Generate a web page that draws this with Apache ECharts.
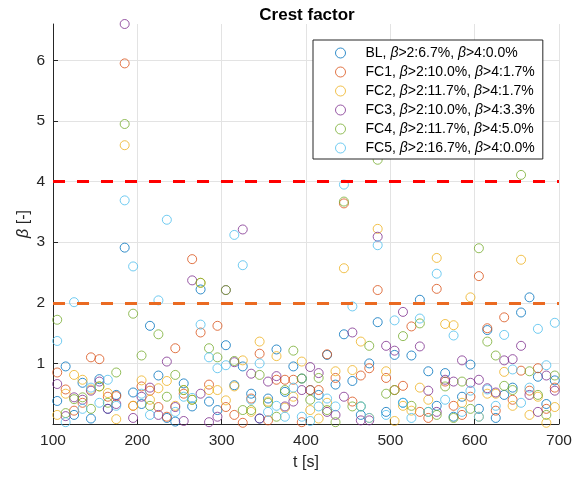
<!DOCTYPE html>
<html>
<head>
<meta charset="utf-8">
<script src="https://cdn.jsdelivr.net/npm/echarts@6/dist/echarts.min.js"></script>
<style>
  html, body { margin: 0; padding: 0; background: #fff; }
  #chart { width: 579px; height: 479px; }
</style>
</head>
<body>
<div id="chart"></div>
<script>
// Sampling instants of the crest-factor estimate [s]
const times = [105, 115, 125, 135, 145, 155, 165, 175, 185, 195,
               205, 215, 225, 235, 245, 255, 265, 275, 285, 295,
               305, 315, 325, 335, 345, 355, 365, 375, 385, 395,
               405, 415, 425, 435, 445, 455, 465, 475, 485, 495,
               505, 515, 525, 535, 545, 555, 565, 575, 585, 595,
               605, 615, 625, 635, 645, 655, 665, 675, 685, 695];

// Crest factor beta per case
const bl  = [0.38, 0.95, 0.15, 0.68, 0.09, 0.74, 0.25, 0.48, 2.91, 0.52,
             0.33, 1.62, 0.80, 0.10, 0.04, 0.67, 0.29, 2.22, 0.37, 0.23,
             1.30, 0.64, 0.95, 0.50, 0.09, 0.42, 1.23, 0.53, 0.95, 0.75,
             0.56, 0.48, 1.14, 0.65, 1.48, 0.71, 0.15, 1.00, 1.68, 0.20,
             1.14, 0.35, 1.13, 2.05, 0.87, 0.30, 0.84, 0.12, 0.45, 0.98,
             0.25, 1.55, 0.10, 0.48, 0.60, 1.84, 2.09, 0.78, 0.33, 0.72];
const fc1 = [0.85, 0.57, 0.22, 0.35, 1.10, 1.07, 0.45, 0.46, 5.95, 0.30,
             0.62, 0.55, 0.28, 0.12, 1.25, 0.50, 2.72, 1.51, 0.65, 1.62,
             0.28, 0.15, 0.02, 0.42, 1.16, 0.06, 0.73, 0.73, 0.73, 0.03,
             0.56, 0.56, 1.15, 0.76, 3.64, 0.37, 0.80, 0.92, 2.21, 0.76,
             0.56, 0.63, 1.61, 0.20, 0.10, 2.23, 0.70, 0.30, 0.15, 0.45,
             2.44, 1.58, 0.22, 1.76, 0.40, 0.88, 0.55, 0.92, 0.25, 0.60];
const fc2 = [0.15, 0.50, 0.81, 0.73, 0.57, 0.62, 0.51, 0.08, 4.60, 0.30,
             0.72, 0.40, 0.59, 0.71, 0.30, 0.56, 0.40, 2.33, 0.56, 0.56,
             0.39, 0.62, 1.05, 0.20, 1.36, 0.37, 1.12, 0.27, 0.45, 1.03,
             0.23, 0.09, 0.35, 0.87, 2.57, 0.89, 1.36, 0.10, 3.22, 0.87,
             0.05, 0.30, 0.22, 0.60, 0.40, 2.74, 1.65, 1.63, 0.35, 2.09,
             0.12, 0.50, 0.50, 0.86, 0.30, 2.71, 0.15, 0.45, 0.02, 0.28];
const fc3 = [0.66, 0.13, 0.44, 0.40, 0.55, 0.70, 0.25, 0.33, 6.60, 0.10,
             0.45, 0.60, 0.15, 1.03, 0.28, 0.05, 2.37, 0.50, 0.03, 0.12,
             2.21, 1.02, 3.21, 0.83, 0.09, 0.70, 0.79, 0.29, 0.37, 0.56,
             0.94, 0.84, 0.20, 0.15, 0.45, 1.51, 0.06, 0.06, 3.09, 1.29,
             1.21, 1.85, 5.10, 1.28, 0.55, 0.20, 0.73, 0.70, 1.05, 0.68,
             0.73, 0.59, 0.52, 1.05, 1.07, 1.29, 0.48, 0.20, 0.80, 0.55];
const fc4 = [1.72, 0.18, 0.41, 0.44, 0.25, 0.62, 0.35, 0.85, 4.95, 1.82,
             1.13, 0.30, 1.48, 0.45, 0.81, 0.56, 0.40, 2.33, 1.25, 1.10,
             2.21, 1.04, 0.23, 0.23, 0.81, 0.35, 0.12, 0.56, 1.21, 0.75,
             0.40, 0.76, 0.23, 0.03, 3.67, 0.29, 0.29, 1.29, 4.36, 0.50,
             0.56, 1.45, 0.30, 1.66, 0.20, 0.15, 0.62, 0.10, 0.70, 0.25,
             2.90, 1.36, 1.13, 0.63, 0.56, 4.11, 0.87, 0.48, 0.15, 0.80];
const fc5 = [1.37, 0.03, 2.01, 0.25, 0.60, 0.35, 0.73, 0.30, 3.69, 2.60,
             0.50, 0.15, 2.04, 3.37, 0.20, 0.45, 0.43, 1.64, 1.10, 0.92,
             0.97, 3.12, 2.62, 0.40, 1.00, 0.20, 0.30, 0.12, 0.60, 0.12,
             0.05, 0.29, 0.42, 0.29, 3.95, 1.94, 0.29, 0.10, 2.95, 0.15,
             1.71, 0.35, 0.10, 1.74, 0.20, 2.48, 0.40, 1.46, 0.20, 0.55,
             0.12, 0.57, 0.30, 1.47, 0.90, 0.35, 0.60, 1.57, 0.97, 1.67];

const caseNames  = ['BL', 'FC1', 'FC2', 'FC3', 'FC4', 'FC5'];
const caseValues = [bl, fc1, fc2, fc3, fc4, fc5];
const caseColors = ['#0072BD', '#D95319', '#EDB120', '#7E2F8E', '#77AC30', '#4DBEEE'];

// Threshold levels and their line colours
const thresholds      = [2, 4];
const thresholdColors = ['#EA6A22', '#FF0000'];

// Axis ticks
const xTicks = [100, 200, 300, 400, 500, 600, 700];
const yTicks = [1, 2, 3, 4, 5, 6];

const FONT = "'Liberation Sans', Arial, Helvetica, sans-serif";
const AXIS_COLOR = '#262626';
const GRID_COLOR = '#E3E3E3';

// Share of samples above a level, in percent with one decimal
function shareAbove(values, level) {
  const n = values.filter(v => v > level).length;
  return (100 * n / values.length).toFixed(1);
}

const legendText = {};
caseNames.forEach((name, i) => {
  legendText[name] = name + ', {i|β}>' + thresholds[0] + ':' + shareAbove(caseValues[i], thresholds[0]) +
                     '%, {i|β}>' + thresholds[1] + ':' + shareAbove(caseValues[i], thresholds[1]) + '%';
});

const scatterSeries = caseNames.map((name, i) => ({
  name: name,
  type: 'scatter',
  symbol: 'circle',
  symbolSize: 9,
  z: 2,
  itemStyle: { color: 'rgba(0,0,0,0)', borderColor: caseColors[i], borderWidth: 1 },
  emphasis: { disabled: true },
  data: times.map((t, k) => [t, caseValues[i][k]])
}));

// Horizontal grid lines, kept underneath the markers
const gridSeries = {
  name: 'grid',
  type: 'scatter',
  data: [],
  silent: true,
  z: 0,
  markLine: {
    silent: true,
    z: 0,
    symbol: 'none',
    label: { show: false },
    emphasis: { disabled: true },
    lineStyle: { color: GRID_COLOR, type: 'solid', width: 1 },
    data: yTicks.map(v => ({ yAxis: v }))
  }
};

// Dashed threshold levels
const thresholdSeries = {
  name: 'levels',
  type: 'scatter',
  data: [],
  silent: true,
  z: 3,
  markLine: {
    silent: true,
    z: 3,
    symbol: 'none',
    label: { show: false },
    emphasis: { disabled: true },
    data: thresholds.map((v, i) => ({
      yAxis: v,
      lineStyle: { color: thresholdColors[i], type: [12, 12], width: 3 }
    }))
  }
};

const chart = echarts.init(document.getElementById('chart'), null, { renderer: 'canvas' });

chart.setOption({
  animation: false,
  backgroundColor: '#fff',
  title: {
    text: 'Crest factor',
    left: 302,
    textAlign: 'center',
    top: 2,
    textStyle: { fontFamily: FONT, fontSize: 17, fontWeight: 'bold', color: '#000' }
  },
  grid: { left: 53, right: 20, top: 24, bottom: 55, containLabel: false },
  legend: {
    orient: 'vertical',
    left: 313,
    top: 40,
    padding: [5, 8, 3, 22],
    itemGap: 3,
    itemWidth: 40,
    itemHeight: 10,
    selectedMode: false,
    backgroundColor: '#fff',
    borderColor: AXIS_COLOR,
    borderWidth: 1,
    z: 4,
    formatter: name => legendText[name],
    textStyle: {
      fontFamily: FONT, fontSize: 14, lineHeight: 16, color: '#000',
      rich: { i: { fontFamily: FONT, fontSize: 14, lineHeight: 16, fontStyle: 'italic', color: '#000' } }
    },
    data: caseNames.map((name, i) => ({
      name: name,
      icon: 'circle',
      itemStyle: { color: 'rgba(0,0,0,0)', borderColor: caseColors[i], borderWidth: 1 }
    }))
  },
  xAxis: {
    type: 'value',
    min: xTicks[0],
    max: xTicks[xTicks.length - 1],
    interval: 100,
    name: 't [s]',
    nameLocation: 'middle',
    nameGap: 31,
    nameMoveOverlap: false,
    nameTextStyle: { fontFamily: FONT, fontSize: 16, color: AXIS_COLOR },
    axisLine: { show: true, onZero: false, lineStyle: { color: AXIS_COLOR, width: 1 } },
    axisTick: { show: true, inside: true, length: 5, lineStyle: { color: AXIS_COLOR } },
    axisLabel: { fontFamily: FONT, fontSize: 15.5, color: AXIS_COLOR, margin: 9 },
    splitLine: { show: true, lineStyle: { color: GRID_COLOR, width: 1 } }
  },
  yAxis: {
    type: 'value',
    min: 0,
    max: 6.6,
    interval: 1,
    name: '{i|β} [-]',
    nameLocation: 'middle',
    nameRotate: 90,
    nameGap: 21,
    nameMoveOverlap: false,
    nameTextStyle: {
      fontFamily: FONT, fontSize: 16, color: AXIS_COLOR,
      rich: { i: { fontFamily: FONT, fontSize: 16, fontStyle: 'italic', color: AXIS_COLOR } }
    },
    axisLine: { show: true, onZero: false, lineStyle: { color: AXIS_COLOR, width: 1 } },
    axisTick: { show: true, inside: true, length: 5, customValues: yTicks, lineStyle: { color: AXIS_COLOR } },
    axisLabel: { fontFamily: FONT, fontSize: 15.5, color: AXIS_COLOR, margin: 8, customValues: yTicks },
    splitLine: { show: false }
  },
  series: [gridSeries].concat(scatterSeries, [thresholdSeries])
});
</script>
</body>
</html>
